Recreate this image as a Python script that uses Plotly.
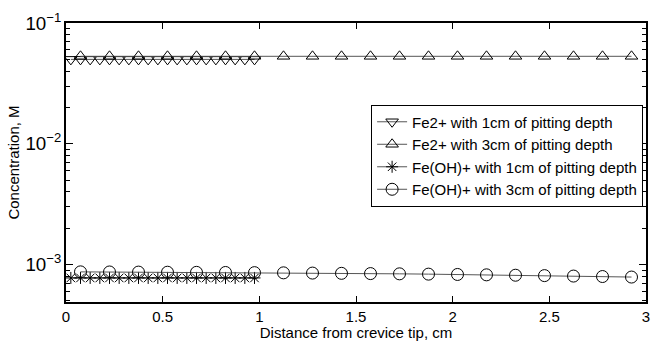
import plotly.graph_objects as go

# Distances (cm)
x_1cm = [0.025 + 0.05 * k for k in range(20)]
x_3cm = [0.075 + 0.15 * k for k in range(20)]

fe2_1cm = [0.0500] * 20
fe2_3cm = [0.0530] * 20
feoh_1cm = [7.75e-4] * 20
feoh_3cm = [8.70e-4, 8.68e-4, 8.66e-4, 8.64e-4, 8.62e-4, 8.60e-4, 8.57e-4, 8.54e-4,
            8.50e-4, 8.46e-4, 8.42e-4, 8.38e-4, 8.33e-4, 8.28e-4, 8.22e-4, 8.16e-4,
            8.10e-4, 8.03e-4, 7.96e-4, 7.88e-4]

names = ["Fe2+ with 1cm of pitting depth", "Fe2+ with 3cm of pitting depth",
         "Fe(OH)+ with 1cm of pitting depth", "Fe(OH)+ with 3cm of pitting depth"]

minor_vals = [m * 10.0 ** e for e in (-4, -3, -2) for m in range(2, 10)]

fig = go.Figure()
series = [
    (x_1cm, fe2_1cm, "triangle-down-open", 11),
    (x_3cm, fe2_3cm, "triangle-up-open", 11),
    (x_1cm, feoh_1cm, "asterisk-open", 10),
    (x_3cm, feoh_3cm, "circle-open", 12),
]
for (xs, ys, sym, sz), nm in zip(series, names):
    fig.add_trace(go.Scatter(
        x=xs, y=ys, name=nm, mode="lines+markers",
        line=dict(color="#555555", width=1),
        marker=dict(symbol=sym, size=sz, color="black", line=dict(color="black", width=1)),
    ))

# helper trace so the minor-tick axis is drawn
fig.add_trace(go.Scatter(x=x_3cm, y=fe2_3cm, yaxis="y2", mode="lines",
                         line=dict(width=0), opacity=0, showlegend=False,
                         hoverinfo="skip"))

yr = [-3.31, -1]
font = dict(family="Liberation Sans, Arial, sans-serif", color="black")
fig.update_layout(
    width=662, height=341,
    margin=dict(l=66, r=16, t=23, b=39),
    paper_bgcolor="white", plot_bgcolor="white",
    font=dict(size=13, **font),
    showlegend=True,
    legend=dict(x=0.995, y=0.525, xanchor="right", yanchor="middle",
                bgcolor="white", bordercolor="black", borderwidth=1,
                font=dict(size=15, **font), tracegroupgap=0, itemwidth=30),
    xaxis=dict(range=[0, 3], dtick=0.5, ticks="inside", ticklen=6, tickwidth=1.2,
               tickcolor="black", showline=True, automargin=False,
               linecolor="black", linewidth=1.5, mirror="ticks", showgrid=False,
               zeroline=False, tickfont=dict(size=15), ticklabelstandoff=0,
               title=dict(text="Distance from crevice tip, cm", font=dict(size=15), standoff=4)),
    yaxis=dict(type="log", range=yr, dtick=1, exponentformat="power", automargin=False,
               ticks="inside", ticklen=7, tickwidth=1.2, tickcolor="black",
               showline=True, linecolor="black", linewidth=1.5,
               mirror="ticks", showgrid=False, zeroline=False, tickfont=dict(size=15),
               title=dict(text="Concentration, M", font=dict(size=15), standoff=2)),
    yaxis2=dict(type="log", range=yr, overlaying="y", anchor="x", side="left",
                automargin=False, tickmode="array", tickvals=minor_vals,
                showticklabels=False, ticks="inside", ticklen=4, tickwidth=1.2,
                tickcolor="black", showline=False,
                mirror="ticks", showgrid=False, zeroline=False),
)
fig.write_html("out.html")
